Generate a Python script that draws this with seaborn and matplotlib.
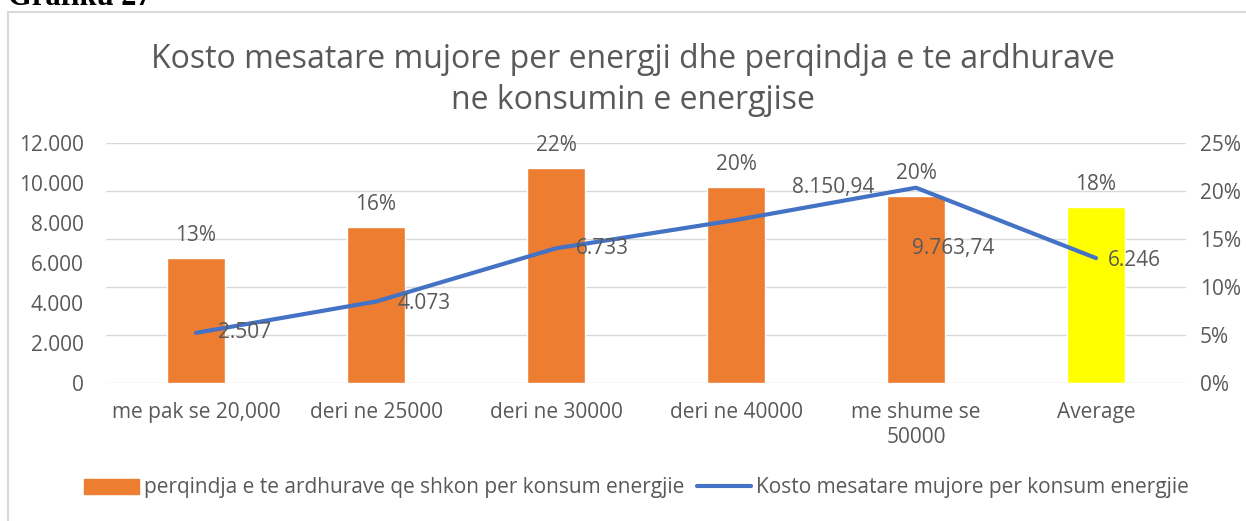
import seaborn as sns
import pandas as pd
import matplotlib.pyplot as plt
from matplotlib.patches import Patch, Rectangle
from matplotlib.lines import Line2D
from matplotlib.ticker import FuncFormatter

# data
categories = ["me pak se 20,000", "deri ne 25000", "deri ne 30000",
              "deri ne 40000", "me shume se\n50000", "Average"]
share = [0.13, 0.163, 0.224, 0.204, 0.195, 0.183]
share_labels = ["13%", "16%", "22%", "20%", "20%", "18%"]
cost = [2507, 4073, 6733, 8150.94, 9763.74, 6246]
cost_labels = ["2.507", "4.073", "6.733", "8.150,94", "9.763,74", "6.246"]
bar_colors = ["#ED7D31", "#ED7D31", "#ED7D31", "#ED7D31", "#ED7D31", "#FFFF00"]

df = pd.DataFrame({"cat": categories, "share": share, "cost": cost})

sns.set_style("white")
plt.rcParams['font.family'] = ['Open Sans', 'DejaVu Sans']
txt = "#595959"

fig = plt.figure(figsize=(12.46, 5.21), dpi=100)
# outer frame of the chart
fig.patches.append(Rectangle((8 / 1246, -0.1), 1.1, 1 - 12 / 521 + 0.1,
                             transform=fig.transFigure, fill=False,
                             edgecolor="#D9D9D9", linewidth=1.5))
fig.text(8 / 1246, 1 - 5 / 521, "Grafiku 27", family="Liberation Serif",
         fontweight="bold", fontsize=22, va="baseline", ha="left", color="black")

ax = fig.add_axes([106 / 1246, 1 - 383 / 521, 1080 / 1246, 240 / 521])
ax2 = ax.twinx()

# bars on the right (percent) axis
sns.barplot(data=df, x="cat", y="share", hue="cat", palette=bar_colors,
            width=0.32, legend=False, ax=ax2, saturation=1, zorder=2)
ax2.set_ylim(0, 0.25)
ax2.set_yticks([0, 0.05, 0.10, 0.15, 0.20, 0.25])
ax2.yaxis.set_major_formatter(FuncFormatter(lambda v, p: f"{v * 100:.0f}%"))
ax2.grid(axis="y", color="#D9D9D9", linewidth=1, zorder=0)
ax2.set_axisbelow(True)
for i, v in enumerate(share):
    ax2.annotate(share_labels[i], (i, v), xytext=(0, 12), textcoords="offset pixels",
                 ha="center", va="bottom", fontsize=15, color=txt)

# line on the left (cost) axis
sns.lineplot(x=list(range(len(cost))), y=cost, ax=ax, color="#4472C4",
             linewidth=3, zorder=3)
ax.set_ylim(0, 12000)
ax.set_yticks(range(0, 12001, 2000))
ax.yaxis.set_major_formatter(FuncFormatter(lambda v, p: f"{v:,.0f}".replace(",", ".")))
ax.set_zorder(ax2.get_zorder() + 1)
ax.patch.set_visible(False)

offsets = [(22, 0), (22, -2), (20, 0), (56, 32), (-4, -61), (12, -2)]
for i, v in enumerate(cost):
    ax.annotate(cost_labels[i], (i, v), xytext=offsets[i], textcoords="offset pixels",
                ha="left", va="center", fontsize=15, color=txt)

ax.set_xlim(-0.5, 5.5)
ax.set_xticks(range(len(categories)))
ax.set_xticklabels(categories)
for a in (ax, ax2):
    a.set_xlabel("")
    a.set_ylabel("")
    for s in a.spines.values():
        s.set_visible(False)
    a.tick_params(length=0, labelsize=15, labelcolor=txt)
ax.tick_params(axis="y", pad=16)
ax2.tick_params(axis="y", pad=10)
ax.tick_params(axis="x", pad=14)

fig.text(0.508, 1 - 80 / 521,
         "Kosto mesatare mujore per energji dhe perqindja e te ardhurave\nne konsumin e energjise",
         ha="center", va="center", fontsize=23, color=txt, linespacing=1.3)

handles = [Patch(color="#ED7D31"), Line2D([0], [0], color="#4472C4", linewidth=3)]
fig.legend(handles, ["perqindja e te ardhurave qe shkon per konsum energjie",
                     "Kosto mesatare mujore per konsum energjie"],
           loc="center", bbox_to_anchor=(0.511, 1 - 488 / 521), ncol=2, frameon=False,
           fontsize=15, labelcolor=txt, handlelength=2.6, handletextpad=0.25,
           columnspacing=0.6)

fig.savefig("out.png", dpi=100)
